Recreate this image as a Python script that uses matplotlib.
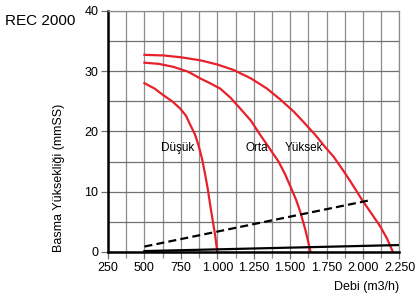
import matplotlib.pyplot as plt
from matplotlib.ticker import FuncFormatter, MultipleLocator

plt.rcParams['font.family'] = ['Liberation Sans Narrow', 'Liberation Sans', 'DejaVu Sans']

# pump curves (flow m3/h, head mmSS)
dusuk_x = [500, 570, 630, 690, 745, 785, 814, 845, 871, 895, 917, 935, 951, 968, 985, 1000]
dusuk_y = [28.0, 27.1, 26.0, 25.0, 23.8, 22.6, 21.1, 19.6, 17.7, 15.5, 12.8, 10.4, 7.8, 5.3, 2.8, 0.0]

orta_x = [500, 600, 700, 800, 882, 950, 1020, 1090, 1157, 1230, 1295, 1355,
          1420, 1465, 1501, 1540, 1570, 1605, 1640]
orta_y = [31.4, 31.2, 30.7, 29.9, 28.8, 28.0, 27.1, 25.6, 23.8, 21.8, 19.4, 17.3,
          15.0, 12.9, 10.9, 8.7, 6.6, 3.6, 0.0]

yuksek_x = [500, 630, 750, 882, 1000, 1111, 1230, 1341, 1432, 1524, 1590, 1673,
            1740, 1798, 1870, 1940, 1994, 2060, 2119, 2165, 2205]
yuksek_y = [32.7, 32.6, 32.3, 31.8, 31.1, 30.2, 28.8, 27.1, 25.3, 23.3, 21.6, 19.4,
            17.4, 15.8, 13.3, 10.7, 8.6, 6.3, 4.2, 2.2, 0.0]

dashed_x = [500, 2051]
dashed_y = [0.9, 8.6]

solid_x = [500, 2250]
solid_y = [0.15, 1.15]

labels = ['Düşük', 'Orta', 'Yüksek']
label_x = [726, 1272, 1592]
label_y = [17.3, 17.2, 17.2]

red = '#e8202a'

fig = plt.figure(figsize=(4.17, 2.93), dpi=100)
ax = fig.add_axes([0.259, 0.14, 0.699, 0.823])

ax.set_xlim(250, 2250)
ax.set_ylim(0, 40)
ax.xaxis.set_major_locator(MultipleLocator(250))
ax.xaxis.set_minor_locator(MultipleLocator(125))
ax.yaxis.set_major_locator(MultipleLocator(10))
ax.yaxis.set_minor_locator(MultipleLocator(5))
ax.xaxis.set_major_formatter(FuncFormatter(lambda v, p: f'{int(v):,}'.replace(',', '.')))

ax.grid(True, which='both', axis='x', color='#8c8c8c', lw=0.9)
ax.grid(True, which='both', axis='y', color='#707070', lw=0.9)
ax.set_axisbelow(True)

for s in ['top', 'right']:
    ax.spines[s].set_color('#8c8c8c')
    ax.spines[s].set_linewidth(0.9)
for s in ['left', 'bottom']:
    ax.spines[s].set_color('black')
    ax.spines[s].set_linewidth(1.8)

ax.tick_params(axis='both', which='major', labelsize=9, color='#707070', length=5, width=0.9, pad=2)
ax.tick_params(axis='x', which='minor', color='#8c8c8c', length=4, width=0.9)
ax.tick_params(axis='y', which='minor', length=0)

ax.plot(dusuk_x, dusuk_y, color=red, lw=1.6)
ax.plot(orta_x, orta_y, color=red, lw=1.6)
ax.plot(yuksek_x, yuksek_y, color=red, lw=1.6)
ax.plot(dashed_x, dashed_y, color='black', lw=1.6, ls=(0, (3.6, 1.9)))
ax.plot(solid_x, solid_y, color='black', lw=1.6)

for t, x, y in zip(labels, label_x, label_y):
    ax.text(x, y, t, ha='center', va='center', fontsize=8.5)

ax.set_xlabel('Debi (m3/h)', fontsize=9, ha='right')
ax.xaxis.set_label_coords(1.0, -0.12)
ax.set_ylabel('Basma Yüksekliği (mmSS)', fontsize=9)
ax.yaxis.set_label_coords(-0.148, 0.307)

fig.text(0.012, 0.93, 'REC 2000', fontsize=11, ha='left', va='center')

fig.savefig('out.png', dpi=100)
